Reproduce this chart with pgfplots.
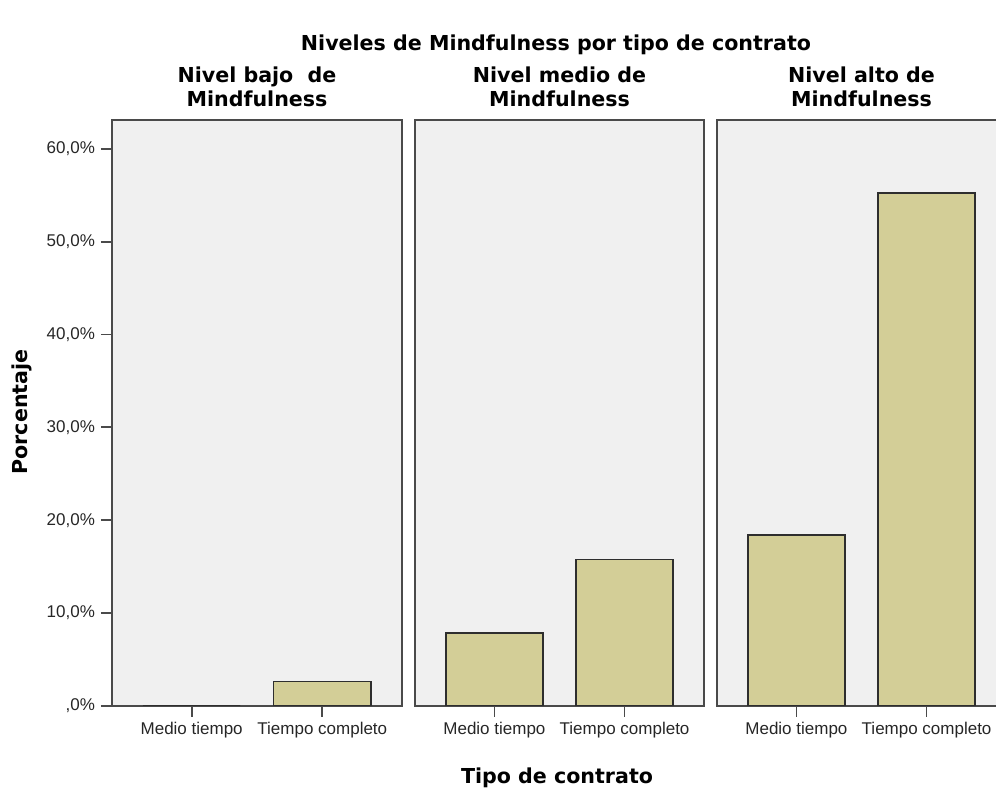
\documentclass[border=0pt]{standalone}
\usepackage{pgfplots}
\pgfplotsset{compat=1.18}
\usepackage{fontspec}
\setmainfont{Liberation Sans}
\newfontfamily\titlefont{DejaVu Sans}
\definecolor{panelbg}{HTML}{F0F0F0}
\definecolor{barfill}{HTML}{D3CE97}
\definecolor{framec}{HTML}{4A4A4A}
\definecolor{barline}{HTML}{2E2E2E}
\pgfplotsset{
  panel/.style={
    scale only axis, width=145pt, height=293pt,
    anchor=south west,
    xmin=0.39, xmax=2.61, ymin=0, ymax=63.1,
    axis background/.style={fill=panelbg},
    axis line style={draw=framec, line width=1pt},
    xtick={1,2}, xticklabels={Medio tiempo, Tiempo completo},
    xtick pos=bottom, ytick pos=left,
    tick align=outside, major tick length=5.5pt,
    every tick/.style={draw=framec, line width=0.9pt},
    ticklabel style={font=\fontsize{8.5}{10}\selectfont, text=black!85},
    xticklabel style={yshift=1pt},
    title style={font=\titlefont\bfseries\fontsize{10.3}{12}\selectfont, align=center, at={(0.5,1)}, anchor=south, inner sep=0pt, yshift=0.5pt},
    /pgf/number format/assume math mode=true,
  },
  barstyle/.style={ybar, bar width=48.7pt, fill=barfill, draw=barline, line width=0.8pt, bar shift=0pt},
}
\begin{document}
\begin{tikzpicture}
\clip (0pt,0pt) rectangle (498pt,398pt);
\begin{axis}[panel, at={(56pt,45pt)},
  ytick={0,10,20,30,40,50,60},
  yticklabels={{,0\%},{10,0\%},{20,0\%},{30,0\%},{40,0\%},{50,0\%},{60,0\%}},
  yticklabel style={xshift=0.5pt},
  title={Nivel bajo \ de\\Mindfulness}]
\addplot[barstyle] coordinates {(1,0) (2,2.63)};
\end{axis}
\begin{axis}[panel, at={(207.5pt,45pt)}, width=144.5pt, ytick=\empty,
  title={Nivel medio de\\Mindfulness}]
\addplot[barstyle] coordinates {(1,7.89) (2,15.79)};
\end{axis}
\begin{axis}[panel, at={(358.5pt,45pt)}, width=144.5pt, ytick=\empty,
  title={Nivel alto de\\Mindfulness}]
\addplot[barstyle] coordinates {(1,18.42) (2,55.26)};
\end{axis}
\node[font=\titlefont\bfseries\fontsize{10.3}{12}\selectfont] at (278pt,375.5pt) {Niveles de Mindfulness por tipo de contrato};
\node[font=\titlefont\bfseries\fontsize{10.3}{12}\selectfont] at (278.5pt,9pt) {Tipo de contrato};
\node[font=\titlefont\bfseries\fontsize{10.3}{12}\selectfont, rotate=90] at (11pt,192pt) {Porcentaje};
\end{tikzpicture}
\end{document}
